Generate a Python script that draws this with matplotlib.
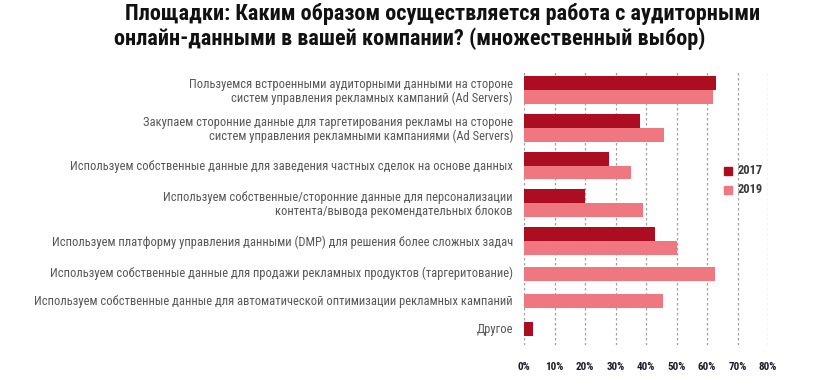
import matplotlib
matplotlib.use("Agg")
import matplotlib.pyplot as plt
from matplotlib import font_manager as fm
from matplotlib.transforms import ScaledTranslation

categories = [
    "Пользуемся встроенными аудиторными данными на стороне\nсистем управления рекламных кампаний (Ad Servers)",
    "Закупаем сторонние данные для таргетирования рекламы на стороне\nсистем управления рекламными кампаниями (Ad Servers)",
    "Используем собственные данные для заведения частных сделок на основе данных",
    "Используем собственные/сторонние данные для персонализации\nконтента/вывода рекомендательных блоков",
    "Используем платформу управления данными (DMP) для решения более сложных задач",
    "Используем собственные данные для продажи рекламных продуктов (таргеритование)",
    "Используем собственные данные для автоматической оптимизации рекламных кампаний",
    "Другое",
]
values_2017 = [63, 38, 28, 20, 43, None, None, 3]
values_2019 = [62, 46, 35, 39, 50, 62.6, 45.5, None]
series_names = ["2017", "2019"]
xticks = [0, 10, 20, 30, 40, 50, 60, 70, 80]
xtick_labels = ["0%", "10%", "20%", "30%", "40%", "50%", "60%", "70%", "80%"]
title_lines = ["Площадки: Каким образом осуществляется работа с аудиторными",
               "онлайн-данными в вашей компании? (множественный выбор)"]

installed = set(f.name for f in fm.fontManager.ttflist)


def pick(cands):
    for c in cands:
        if c in installed:
            return c
    return "DejaVu Sans"


FONT = pick(["Roboto Condensed", "Archivo Narrow", "PT Sans Narrow", "Asap Condensed",
             "Barlow Condensed", "Fira Sans Condensed", "Liberation Sans Narrow", "Liberation Sans"])

# layout (pixel-like units on the y axis)
row_centers = [90, 128, 165.5, 203, 241, 274, 301, 329]
label_centers = [90, 128, 165, 203, 241, 272, 300, 328]
bar_h = 13.7

c17 = "#AD0D21"
c19 = "#EF7780"

W, H = 814, 385
fig = plt.figure(figsize=(W / 100, H / 100), dpi=100)
ax = fig.add_axes([524 / W, 1 - 345 / H, (768 - 524) / W, (345 - 70) / H])
ax.set_xlim(0, 80)
ax.set_ylim(345, 70)

for i, yc in enumerate(row_centers):
    a, b = values_2017[i], values_2019[i]
    if a is not None and b is not None:
        ax.barh(yc - bar_h / 2, a, height=bar_h, color=c17, zorder=3)
        ax.barh(yc + bar_h / 2, b, height=bar_h, color=c19, zorder=3)
    elif a is not None:
        ax.barh(yc, a, height=bar_h, color=c17, zorder=3)
    elif b is not None:
        ax.barh(yc, b, height=bar_h, color=c19, zorder=3)

for x in xticks:
    ax.axvline(x, color="#a0a0a0", lw=0.9, ls=(0, (2, 2)), zorder=1)

for s in ax.spines.values():
    s.set_visible(False)
ax.set_xticks(xticks)
ax.set_xticklabels(xtick_labels, fontfamily=FONT,
                   fontweight="bold", fontsize=8, color="#1c1c2c")
shift = ScaledTranslation(2 / 100, 0, fig.dpi_scale_trans)
for lbl in ax.get_xticklabels():
    lbl.set_transform(lbl.get_transform() + shift)
ax.tick_params(axis="x", length=0, pad=12)
ax.set_yticks(label_centers)
ax.set_yticklabels(categories, fontfamily=FONT, fontsize=9,
                   color="#575757", linespacing=1.0)
ax.tick_params(axis="y", length=0, pad=8)

# legend
for j, (name, col) in enumerate(zip(series_names, [c17, c19])):
    yc = [171, 189.5][j]
    fig.patches.append(plt.Rectangle((724 / W, 1 - (yc + 4) / H), 8 / W, 8 / H,
                                     color=col, transform=fig.transFigure))
    fig.text(738 / W, 1 - yc / H, name, fontfamily=FONT,
             fontweight="bold", fontsize=9, color="#3a3a3a", va="center")

fig.text(125 / W, 1 - 20 / H, title_lines[0], fontfamily=FONT,
         fontweight="bold", fontsize=16, color="#111111", va="baseline")
fig.text(114 / W, 1 - 45 / H, title_lines[1], fontfamily=FONT,
         fontweight="bold", fontsize=16, color="#111111", va="baseline")

fig.savefig("out.png", dpi=100)
